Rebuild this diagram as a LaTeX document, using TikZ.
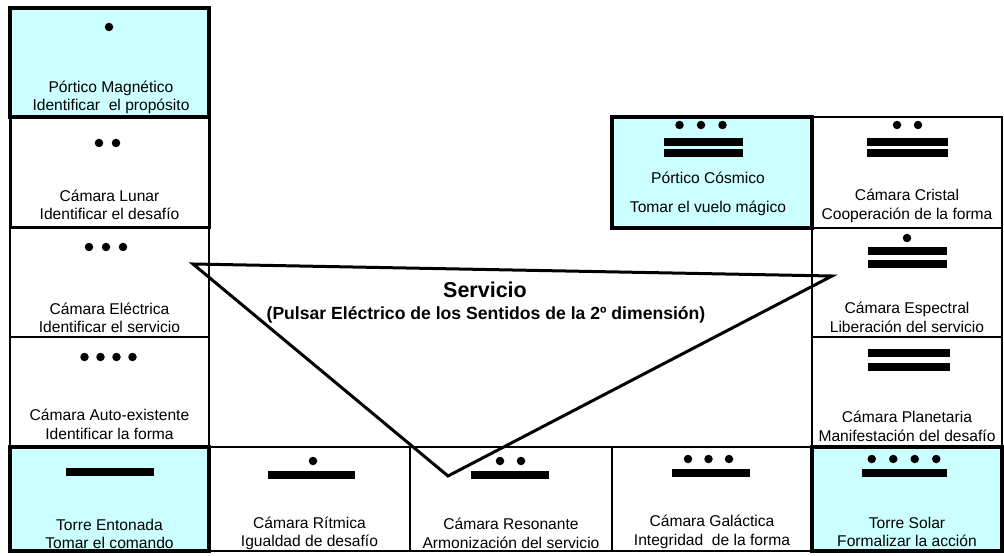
\documentclass[tikz,border=0pt]{standalone}
\usepackage{fontspec}
\setmainfont{Liberation Sans}
\usetikzlibrary{positioning}
\definecolor{torreCyan}{HTML}{CCFFFF}
\tikzset{
  cell/.style={draw, line width=1.3pt, inner sep=0pt},
  gruesa/.style={cell, line width=3pt},
  torre/.style={cell, fill=torreCyan, line width=3.4pt},
  lbl/.style={font=\fontsize{15.6}{18.5}\selectfont, align=center, inner sep=0pt},
  punto/.style={circle, fill=black, inner sep=0pt, minimum size=8.5pt},
  barra/.style={fill=black, inner sep=0pt, minimum height=7.5pt},
  tri/.style={line width=3pt, line join=miter},
  titulo/.style={font=\bfseries\fontsize{21.5}{24}\selectfont, inner sep=0pt},
  subtitulo/.style={font=\bfseries\fontsize{17.6}{20}\selectfont, inner sep=0pt},
}

\begin{document}
\begin{tikzpicture}[x=1pt, y=-1pt]
  \useasboundingbox (0,0) rectangle (1004,556);
  % celdas finas
  \foreach \n/\x/\y/\w/\h in {ele/109.5/282.5/199/109, aut/109.5/392/199/110,
      rit/309.5/499/201/104, res/511/499/202/104, gal/712/499/200/104,
      cri/907/172.5/190/111, esp/907/282.5/190/109, pla/907/392/190/110}
    \node[cell, minimum width=\w pt, minimum height=\h pt] (\n) at (\x,\y) {};
  \node[gruesa, minimum width=199pt, minimum height=111pt] (lun) at (109.5,172.5) {};
  % portales y torres
  \foreach \n/\x/\y/\w/\h in {mag/109.5/62.5/199/109, ent/109.5/499/199/104,
      sol/907/499/190/104, cos/712/172.5/200/111}
    \node[torre, minimum width=\w pt, minimum height=\h pt] (\n) at (\x,\y) {};

  % puntos
  \foreach \n/\x/\y/\k/\d in {mag/109/27/1/0, lun/107.5/143/2/17, ele/106/247/3/17,
      aut/108.5/357/4/16, rit/313/461/1/0, res/510.5/461/2/21, gal/708.5/459/3/20.5,
      sol/904/459/4/21.5, cos/701/125/3/21.5, cri/907.5/125/2/21, esp/907/238/1/0}
    \foreach \i in {1,...,\k}
      \node[punto] (\n-p\i) at ({\x+(\i-(\k+1)/2)*\d}, \y) {};
  % barras
  \foreach \n/\x/\y/\w in {ent/110/472/88, rit/311/475/87, res/510/475/78,
      gal/711/473/78, sol/904.5/473/85, cos-a/703.5/142/79, cos-b/703.5/153/79,
      cri-a/907.5/142/81, cri-b/907.5/153/81, esp-a/907.5/251/79, esp-b/907.5/264/79,
      pla-a/909/353/82, pla-b/909/367/82}
    \node[barra, minimum width=\w pt] (\n-b) at (\x,\y) {};

  % textos
  \foreach \n/\x/\y/\t in {mag/111/97.5/{Pórtico Magnético\\Identificar~ el propósito},
      lun/109.5/205/{Cámara Lunar\\Identificar el desafío},
      ele/109.5/318/{Cámara Eléctrica\\Identificar el servicio},
      aut/109.5/424.5/{Cámara Auto-existente\\Identificar la forma},
      ent/109.5/534/{Torre Entonada\\Tomar el comando},
      rit/309.5/533.5/{Cámara Rítmica\\Igualdad de desafío},
      res/511/533.5/{Cámara Resonante\\Armonización del servicio},
      gal/712/532/{Cámara Galáctica\\Integridad~ de la forma},
      sol/907/532/{Torre Solar\\Formalizar la acción},
      cos/708/193.5/{Pórtico Cósmico\\[10.5pt]Tomar el vuelo mágico},
      cri/907/206/{Cámara Cristal\\Cooperación de la forma},
      esp/907/317.5/{Cámara Espectral\\Liberación del servicio},
      pla/907/426.5/{Cámara Planetaria\\Manifestación del desafío}}
    \node[lbl] (t-\n) at (\x,\y) {\t};

  % triangulo del servicio
  \coordinate (tA) at (193,264);
  \coordinate (tB) at (832,276);
  \coordinate (tC) at (448,476);
  \draw[tri] (tA) -- (tB) -- (tC) -- cycle;
  \node[titulo] (serv) at (485,289.5) {Servicio};
  \node[subtitulo] (pulsar) at (486,314.5)
    {(Pulsar Eléctrico de los Sentidos de la 2º dimensión)};
\end{tikzpicture}
\end{document}
